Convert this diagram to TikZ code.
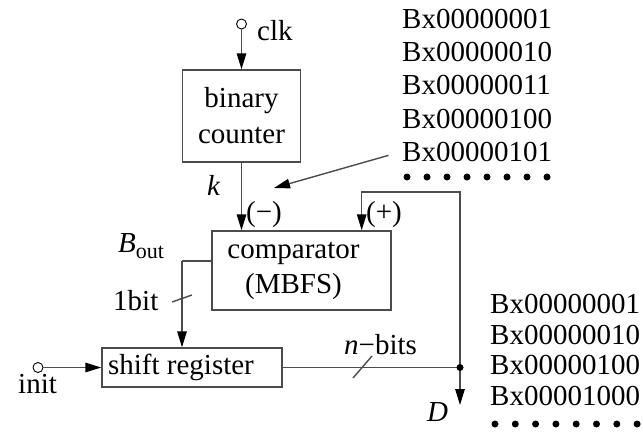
\documentclass[tikz,border=0pt]{standalone}
\usepackage{fontspec}
\setmainfont{Liberation Serif}
\usetikzlibrary{arrows.meta,calc}
\definecolor{ln}{gray}{0.3}
\begin{document}
\begin{tikzpicture}[x=1pt,y=-1pt,
  every node/.style={font=\fontsize{29}{33}\selectfont, inner sep=0pt},
  wire/.style={draw=ln, line width=1.4pt},
  arr/.style={wire, -{Triangle[length=16pt,width=9.5pt,color=black]}},
  blk/.style={draw=ln, line width=1.4pt, align=center},
  pin/.style={circle, draw=black, fill=white, line width=0.9pt, minimum size=10pt},
  lbl/.style={anchor=base west},
  dot/.style={fill=black}]
\useasboundingbox (0,0) rectangle (643,432);

% blocks
\node[blk, minimum width=118pt, minimum height=92pt] (cnt) at (241.5,116)
  {binary\\[3pt]counter};
\node[blk, minimum width=179pt, minimum height=79pt] (cmp) at (301.5,270.5)
  {\hspace*{-16pt}comparator\\[2pt]\hspace*{-16pt}(MBFS)};
\node[blk, minimum width=180pt, minimum height=39pt] (sr) at (192,367.5)
  {\hspace*{-22pt}shift register};

% pins
\node[pin] (clkpin) at (241.5,24) {};
\node[pin] (initpin) at (38,367.5) {};
\node[lbl] (clk) at (257,40) {clk};
\node[lbl] (init) at (18,393) {init};

% top list of codes
\node[lbl] (a1) at (402,28)  {Bx00000001};
\node[lbl] (a2) at (402,61)  {Bx00000010};
\node[lbl] (a3) at (402,94)  {Bx00000011};
\node[lbl] (a4) at (402,128) {Bx00000100};
\node[lbl] (a5) at (402,161) {Bx00000101};
\foreach \i in {0,...,7} \fill[dot] (407+20*\i,177) circle (3.5);

% bottom list of codes
\node[lbl] (b1) at (490,313) {Bx00000001};
\node[lbl] (b2) at (490,344) {Bx00000010};
\node[lbl] (b3) at (490,374) {Bx00000100};
\node[lbl] (b4) at (490,405) {Bx00001000};
\foreach \i in {0,...,7} \fill[dot] (495+20.3*\i,424) circle (3.5);

% labels
\node[lbl] (k) at (207,195) {\itshape k};
\node[lbl] (minus) at (246,221) {(−)};
\node[lbl] (plus) at (366,221) {(+)};
\node[lbl] (bout) at (118,252)
  {\itshape B\upshape\raisebox{-6pt}{\fontsize{22}{22}\selectfont out}};
\node[lbl] (onebit) at (113,310) {1bit};
\node[lbl] (nbits) at (344,354) {\itshape n\upshape−bits};
\node[lbl] (dlab) at (427,421) {\itshape D};

% helper points
\coordinate (junc) at (460,367.5);
\coordinate (fb) at (460,192);
\coordinate (ptrtip) at (274,188);
\coordinate (bend) at (182,261);
\coordinate (dout) at (460,405);

% connectors
\draw[arr] (clkpin) -- (cnt.north);
\draw[arr] (cnt.south) -- (cnt.south |- cmp.north);
\draw[arr, shorten <=14pt] (a5.west) -- (ptrtip);
\draw[arr] (junc) -- (fb) -| ([xshift=-30pt]cmp.north east);
\draw[wire] (bend -| cmp.west) -- (bend);
\draw[arr] (bend) -- (bend |- sr.north);
\draw[arr] (initpin) -- (sr.west);
\draw[wire] (sr.east) -- (junc);
\draw[arr] (junc) -- (dout);
\fill (junc) circle (3.5);

% bus width ticks
\draw[wire] (172,302) -- (192,295);
\draw[wire] (353,378) -- (372,356);
\end{tikzpicture}
\end{document}
